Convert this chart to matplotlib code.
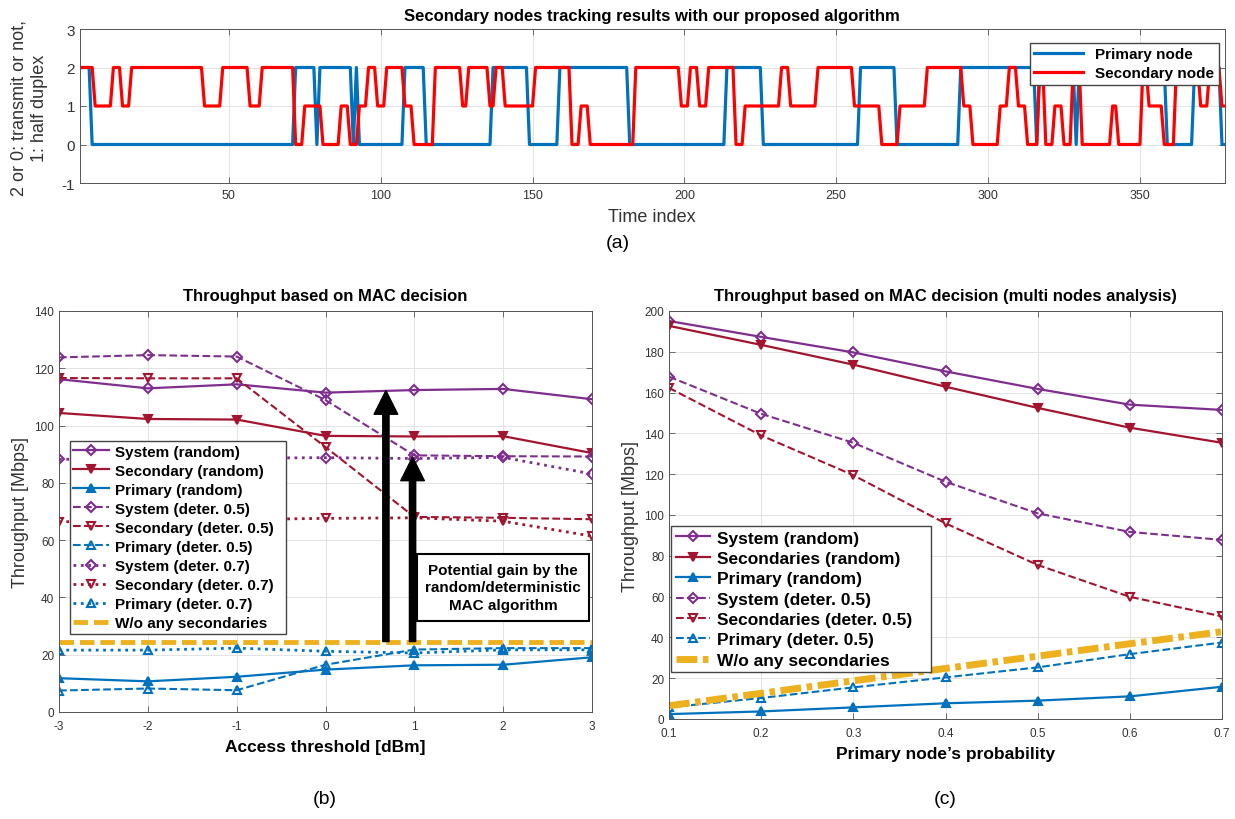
import numpy as np
import matplotlib
matplotlib.use('Agg')
import matplotlib.pyplot as plt

plt.rcParams['font.family'] = ['Liberation Sans', 'DejaVu Sans']
plt.rcParams['axes.unicode_minus'] = False

primary_levels = [2, 0, 2, 0, 2, 0, 2, 0, 2, 0, 2, 0, 2, 0, 2, 0, 2, 0, 2, 0, 2, 0, 2, 0, 2, 0]
primary_runs = [4, 67, 7, 1, 11, 1, 1, 15, 7, 22, 12, 10, 23, 32, 12, 32, 12, 21, 25, 1, 12, 1, 29, 9, 9, 2]
secondary_levels = [2, 1, 2, 1, 2, 1, 2, 1, 2, 0, 1, 0, 1, 0, 1, 2, 1, 2, 1, 0, 2, 1, 2, 1, 2, 1,
                    2, 0, 1, 0, 2, 1, 2, 1, 2, 0, 1, 2, 1, 2, 1, 0, 1, 2, 1, 0, 1, 2, 1, 0, 2, 0,
                    1, 0, 2, 0, 1, 0, 2, 1, 0, 2, 1, 2, 1]
secondary_runs = [5, 6, 3, 3, 24, 6, 9, 4, 11, 3, 6, 6, 3, 3, 3, 3, 3, 6, 3, 7, 9, 2, 7, 2, 3, 10,
                  12, 3, 3, 15, 15, 3, 3, 3, 9, 3, 12, 3, 9, 12, 9, 6, 9, 12, 3, 9, 3, 3, 3, 4, 2, 3,
                  3, 3, 3, 10, 2, 8, 2, 5, 4, 8, 3, 4, 2]

# ---- (b) throughput vs access threshold ----
thresholds = [-3, -2, -1, 0, 1, 2, 3]
sys_rand_b = [116.2, 113.0, 114.4, 111.5, 112.4, 112.8, 109.2]
sec_rand_b = [104.4, 102.3, 102.1, 96.4, 96.2, 96.3, 90.4]
pri_rand_b = [11.8, 10.7, 12.3, 14.8, 16.3, 16.5, 19.1]
sys_d5_b = [123.8, 124.6, 124.1, 108.9, 89.6, 89.3, 89.2]
sec_d5_b = [116.6, 116.5, 116.5, 92.5, 68.1, 67.8, 67.3]
pri_d5_b = [7.5, 8.2, 7.6, 16.5, 21.8, 22.3, 22.3]
sys_d7_b = [88.2, 88.4, 88.6, 88.8, 88.5, 88.9, 83.1]
sec_d7_b = [66.4, 66.8, 67.2, 67.6, 67.8, 66.6, 61.4]
pri_d7_b = [21.6, 21.6, 22.3, 21.2, 20.6, 21.7, 21.7]
no_sec_b = [24.6] * 7

# ---- (c) throughput vs primary probability ----
probs = [0.1, 0.2, 0.3, 0.4, 0.5, 0.6, 0.7]
sys_rand_c = [195.1, 187.3, 179.7, 170.4, 161.8, 154.1, 151.5]
sec_rand_c = [192.7, 183.4, 173.7, 162.9, 152.5, 142.8, 135.4]
pri_rand_c = [2.4, 3.7, 5.7, 7.7, 9.0, 11.1, 15.8]
sys_d5_c = [167.8, 149.6, 135.4, 116.3, 100.8, 91.7, 87.8]
sec_d5_c = [162.3, 139.0, 119.5, 95.9, 75.5, 59.9, 50.3]
pri_d5_c = [5.7, 10.3, 15.5, 20.4, 25.3, 31.8, 37.5]
no_sec_c = [6.5, 12.6, 18.7, 24.8, 30.8, 36.9, 42.8]

BLUE = '#0072BD'
DRED = '#A2142F'
PURP = '#7E2F8E'
ORNG = '#EDB120'
TICKC = '#333333'

W, H = 1235, 820
fig = plt.figure(figsize=(W / 100, H / 100), dpi=100)


def box(l, t, r, b):
    return [l / W, 1 - b / H, (r - l) / W, (b - t) / H]


def matlab_style(ax, size):
    ax.tick_params(direction='in', top=True, right=True, length=4, width=0.6,
                   labelsize=size, colors='#555555', labelcolor=TICKC)
    ax.tick_params(axis='x', pad=6)
    for s in ax.spines.values():
        s.set_color('#555555')
        s.set_linewidth(0.7)
    ax.grid(True, color='#e3e3e3', lw=0.7)
    ax.set_axisbelow(True)


# ---- panel (a) ----
ax = fig.add_axes(box(80, 30, 1225, 184))
prim = np.repeat(primary_levels, primary_runs)
seco = np.repeat(secondary_levels, secondary_runs)
t = np.arange(1, len(prim) + 1)
ax.plot(t, prim, color=BLUE, lw=2.3, label='Primary node')
ax.plot(t, seco, color='#FF0000', lw=2.3, label='Secondary node')
ax.set_xlim(1, 378)
ax.set_ylim(-1, 3)
ax.set_yticks([-1, 0, 1, 2, 3])
ax.set_xticks([50, 100, 150, 200, 250, 300, 350])
matlab_style(ax, 9)
ax.tick_params(axis='y', labelsize=11)
ax.tick_params(axis='x', pad=4)
ax.legend(loc='upper right', bbox_to_anchor=(1.0, 0.95), prop={'weight': 'bold', 'size': 11},
          fancybox=False, edgecolor='#444444', framealpha=1, borderpad=0.3,
          handlelength=3.2, labelspacing=0.3, borderaxespad=0.4)
fig.text(652 / W, 1 - 17 / H, 'Secondary nodes tracking results with our proposed algorithm',
         ha='center', va='center', fontsize=12, weight='bold')
fig.text(652 / W, 1 - 217 / H, 'Time index', ha='center', va='center', fontsize=13, color='#333333')
fig.text(29 / W, 1 - 108 / H, '2 or 0: transmit or not,\n1: half duplex', ha='center', va='center',
         rotation=90, fontsize=13, color='#333333', linespacing=1.3)
fig.text(618 / W, 1 - 243 / H, '(a)', ha='center', va='center', fontsize=14)

# ---- panel (b) ----
ax = fig.add_axes(box(59, 312, 592, 713))
mk = dict(ms=6, mew=1.5)
dk = dict(ms=5, mew=1.5)
ax.plot(thresholds, sys_rand_b, '-D', color=PURP, mfc='none', lw=1.6, label='System (random)', **dk)
ax.plot(thresholds, sec_rand_b, '-v', color=DRED, mfc=DRED, lw=1.6, label='Secondary (random)', **mk)
ax.plot(thresholds, pri_rand_b, '-^', color=BLUE, mfc=BLUE, lw=1.6, label='Primary (random)', **mk)
ax.plot(thresholds, sys_d5_b, '--D', color=PURP, mfc='none', lw=1.5, label='System (deter. 0.5)', **dk)
ax.plot(thresholds, sec_d5_b, '--v', color=DRED, mfc='none', lw=1.5, label='Secondary (deter. 0.5)', **mk)
ax.plot(thresholds, pri_d5_b, '--^', color=BLUE, mfc='none', lw=1.5, label='Primary (deter. 0.5)', **mk)
ax.plot(thresholds, sys_d7_b, ':D', color=PURP, mfc='none', lw=2, label='System (deter. 0.7)', **dk)
ax.plot(thresholds, sec_d7_b, ':v', color=DRED, mfc='none', lw=2, label='Secondary (deter. 0.7)', **mk)
ax.plot(thresholds, pri_d7_b, ':^', color=BLUE, mfc='none', lw=2, label='Primary (deter. 0.7)', **mk)
ax.plot(thresholds, no_sec_b, '--', color=ORNG, lw=3.5, dashes=(3, 1.2), label='W/o any secondaries')
ax.set_xlim(-3, 3)
ax.set_ylim(0, 140)
ax.set_xticks(thresholds)
ax.set_yticks(range(0, 141, 20))
matlab_style(ax, 8.5)
for xa, ya in [(0.68, 112.2), (0.98, 89.0)]:
    ax.annotate('', xy=(xa, ya), xytext=(xa, no_sec_b[0]),
                arrowprops=dict(facecolor='black', edgecolor='black', width=4.5,
                                headwidth=17, headlength=17, shrink=0))
ax.text(2.0, 43.5, 'Potential gain by the\nrandom/deterministic\nMAC algorithm', ha='center', va='center',
        fontsize=11, weight='bold', linespacing=1.35,
        bbox=dict(boxstyle='square,pad=0.55', facecolor='white', edgecolor='black', lw=1.5))
ax.legend(loc='lower left', bbox_to_anchor=(0.02, 0.195, 0.405, 0.525), mode='expand',
          prop={'weight': 'bold', 'size': 11}, fancybox=False, edgecolor='#444444',
          framealpha=1, borderpad=0.25, handlelength=2.3, labelspacing=0.33, borderaxespad=0,
          handletextpad=0.4)
ax.set_title('Throughput based on MAC decision', fontsize=12, weight='bold', pad=8)
ax.set_xlabel('Access threshold [dBm]', fontsize=12.5, weight='bold', labelpad=5)
ax.set_ylabel('Throughput [Mbps]', fontsize=13, color='#333333', labelpad=4)
fig.text(325 / W, 1 - 800 / H, '(b)', ha='center', va='center', fontsize=14)

# ---- panel (c) ----
ax = fig.add_axes(box(669, 312, 1222, 720))
ax.plot(probs, sys_rand_c, '-D', color=PURP, mfc='none', lw=1.6, label='System (random)', **dk)
ax.plot(probs, sec_rand_c, '-v', color=DRED, mfc=DRED, lw=1.6, label='Secondaries (random)', **mk)
ax.plot(probs, pri_rand_c, '-^', color=BLUE, mfc=BLUE, lw=1.6, label='Primary (random)', **mk)
ax.plot(probs, sys_d5_c, '--D', color=PURP, mfc='none', lw=1.5, label='System (deter. 0.5)', **dk)
ax.plot(probs, sec_d5_c, '--v', color=DRED, mfc='none', lw=1.5, label='Secondaries (deter. 0.5)', **mk)
ax.plot(probs, pri_d5_c, '--^', color=BLUE, mfc='none', lw=1.5, label='Primary (deter. 0.5)', **mk)
ax.plot(probs, no_sec_c, '-.', color=ORNG, lw=5, dashes=(3, 0.8, 0.8, 0.8), label='W/o any secondaries')
ax.set_xlim(0.1, 0.7)
ax.set_ylim(0, 200)
ax.set_xticks(probs)
ax.set_yticks(range(0, 201, 20))
matlab_style(ax, 8.5)
ax.legend(loc='lower left', bbox_to_anchor=(0.004, 0.115, 0.47, 0.42), mode='expand',
          prop={'weight': 'bold', 'size': 12.5}, fancybox=False, edgecolor='#444444',
          framealpha=1, borderpad=0.25, handlelength=2.0, labelspacing=0.3, borderaxespad=0,
          handletextpad=0.4)
ax.set_title('Throughput based on MAC decision (multi nodes analysis)', fontsize=12, weight='bold', pad=8)
ax.set_xlabel('Primary node\u2019s probability', fontsize=12.5, weight='bold', labelpad=5)
ax.set_ylabel('Throughput [Mbps]', fontsize=13, color='#333333', labelpad=4)
fig.text(945 / W, 1 - 800 / H, '(c)', ha='center', va='center', fontsize=14)

fig.savefig('out.png', dpi=100)
